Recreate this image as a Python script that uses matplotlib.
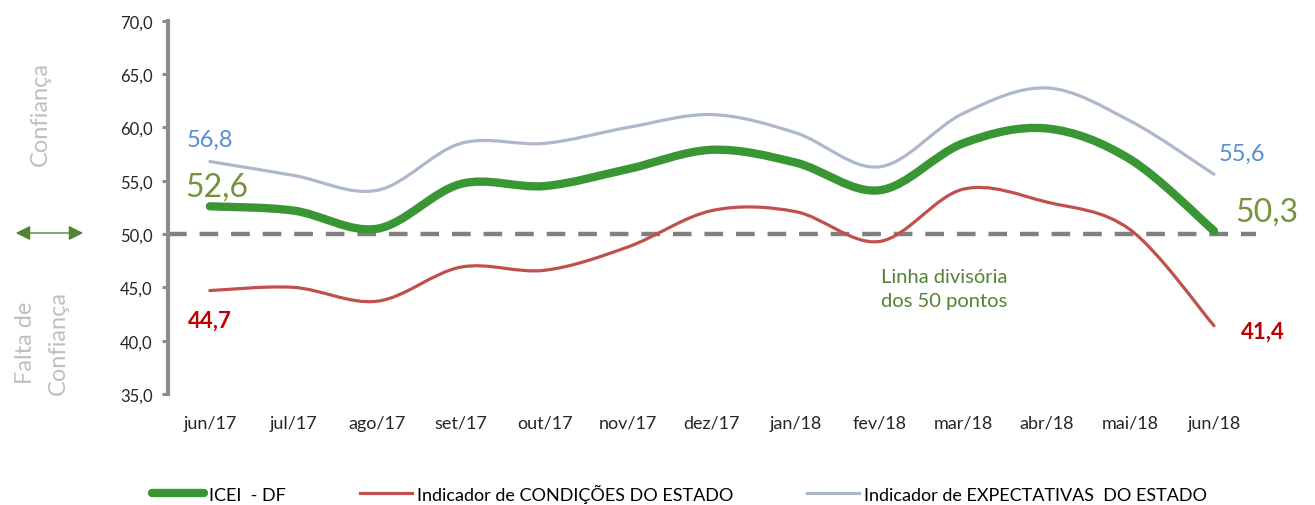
import numpy as np
import matplotlib
matplotlib.use('Agg')
import matplotlib.pyplot as plt
from matplotlib.path import Path
from matplotlib.patches import PathPatch, FancyArrowPatch
from matplotlib.lines import Line2D
from matplotlib.ticker import FuncFormatter

plt.rcParams['font.family'] = ['Lato', 'DejaVu Sans']

months = ['jun/17', 'jul/17', 'ago/17', 'set/17', 'out/17', 'nov/17', 'dez/17',
          'jan/18', 'fev/18', 'mar/18', 'abr/18', 'mai/18', 'jun/18']
icei = [52.6, 52.2, 50.5, 54.7, 54.5, 56.1, 57.9, 56.7, 54.1, 58.5, 59.9, 57.0, 50.3]
condicoes = [44.7, 45.0, 43.7, 46.9, 46.6, 48.8, 52.2, 52.1, 49.3, 54.2, 53.0, 50.4, 41.4]
expectativas = [56.8, 55.5, 54.1, 58.5, 58.5, 60.0, 61.2, 59.5, 56.3, 61.3, 63.7, 60.6, 55.6]

GREEN = '#3a9634'
RED = '#c0504d'
BLUE = '#adb9ca'


def smooth_path(x, y):
    # Excel-like smoothed line: Catmull-Rom segments as cubic Bezier curves
    pts = np.column_stack([x, y]).astype(float)
    ext = np.vstack([pts[0], pts, pts[-1]])
    verts = [pts[0]]
    codes = [Path.MOVETO]
    for i in range(len(pts) - 1):
        p0, p1, p2, p3 = ext[i], ext[i + 1], ext[i + 2], ext[i + 3]
        verts += [p1 + (p2 - p0) / 6, p2 - (p3 - p1) / 6, p2]
        codes += [Path.CURVE4] * 3
    return Path(verts, codes)


fig = plt.figure(figsize=(13.15, 5.06), dpi=100)
ax = fig.add_axes([0.1278, 0.2194, 0.955 - 0.1278, 0.957 - 0.2194])

x = np.arange(len(months))

# 50-point dividing line
ax.axhline(50, color='#808080', lw=3.2, dashes=(4.2, 2.9), zorder=1)

for vals, color, lw, z in [(expectativas, BLUE, 2.3, 2),
                           (condicoes, RED, 2.3, 3),
                           (icei, GREEN, 6.0, 4)]:
    ax.add_patch(PathPatch(smooth_path(x, vals), fill=False, edgecolor=color,
                           lw=lw, capstyle='round', joinstyle='round', zorder=z))

ax.set_xlim(-0.5, 12.5)
ax.set_ylim(35, 70)
ax.set_yticks(np.arange(35, 71, 5))
ax.yaxis.set_major_formatter(FuncFormatter(lambda v, p: f'{v:.1f}'.replace('.', ',')))
ax.set_xticks(x)
ax.set_xticklabels(months)

for s in ['top', 'right', 'bottom']:
    ax.spines[s].set_visible(False)
ax.spines['left'].set_color('#8c8c8c')
ax.spines['left'].set_linewidth(3)
ax.tick_params(axis='y', direction='out', length=4, width=2.2, color='#8c8c8c',
               labelsize=12, labelcolor='#262626', pad=7)
ax.tick_params(axis='x', length=0, labelsize=13, labelcolor='#262626', pad=15)

# data labels at first and last points
lab = dict(textcoords='offset points', ha='center', va='center')
ax.annotate('56,8', (0, expectativas[0]), xytext=(0, 16), color='#558ed5', fontsize=17, **lab)
ax.annotate('52,6', (0, icei[0]), xytext=(5, 14), color='#76923c', fontsize=23, **lab)
ax.annotate('44,7', (0, condicoes[0]), xytext=(0, -21), color='#c00000', fontsize=16,
            fontweight='bold', **lab)
ax.annotate('55,6', (12, expectativas[-1]), xytext=(20, 15), color='#558ed5', fontsize=17, **lab)
ax.annotate('50,3', (12, icei[-1]), xytext=(38, 14), color='#76923c', fontsize=23, **lab)
ax.annotate('41,4', (12, condicoes[-1]), xytext=(35, -4), color='#c00000', fontsize=16,
            fontweight='bold', **lab)

ax.text(8.78, 44.9, 'Linha divisória\ndos 50 pontos', color='#548235', fontsize=14.5,
        ha='center', va='center', linespacing=1.45)

# side annotations
fig.text(40 / 1315, 1 - 114 / 506, 'Confiança', rotation=90, color='#bfbfbf',
         fontsize=17, ha='center', va='center')
fig.text(42 / 1315, 1 - 343 / 506, 'Falta de\nConfiança', rotation=90, color='#bfbfbf',
         fontsize=17, ha='center', va='center', multialignment='center', linespacing=1.75)
fig.add_artist(FancyArrowPatch(
    (13 / 1315, 1 - 234 / 506), (86 / 1315, 1 - 234 / 506), transform=fig.transFigure,
    arrowstyle='<|-|>', mutation_scale=22, color='#538135', lw=1))

handles = [Line2D([], [], color=GREEN, lw=6, solid_capstyle='round'),
           Line2D([], [], color=RED, lw=2.3),
           Line2D([], [], color=BLUE, lw=2.3)]
labels = ['ICEI  - DF', 'Indicador de CONDIÇÕES DO ESTADO',
          'Indicador de EXPECTATIVAS  DO ESTADO']
fig.legend(handles, labels, loc='center left', bbox_to_anchor=(152 / 1315, 1 - 494 / 506),
           ncol=3, frameon=False, fontsize=13, handlelength=2.9, handletextpad=0.25,
           columnspacing=4.1, borderpad=0, borderaxespad=0)

fig.savefig('out.png', dpi=100)
